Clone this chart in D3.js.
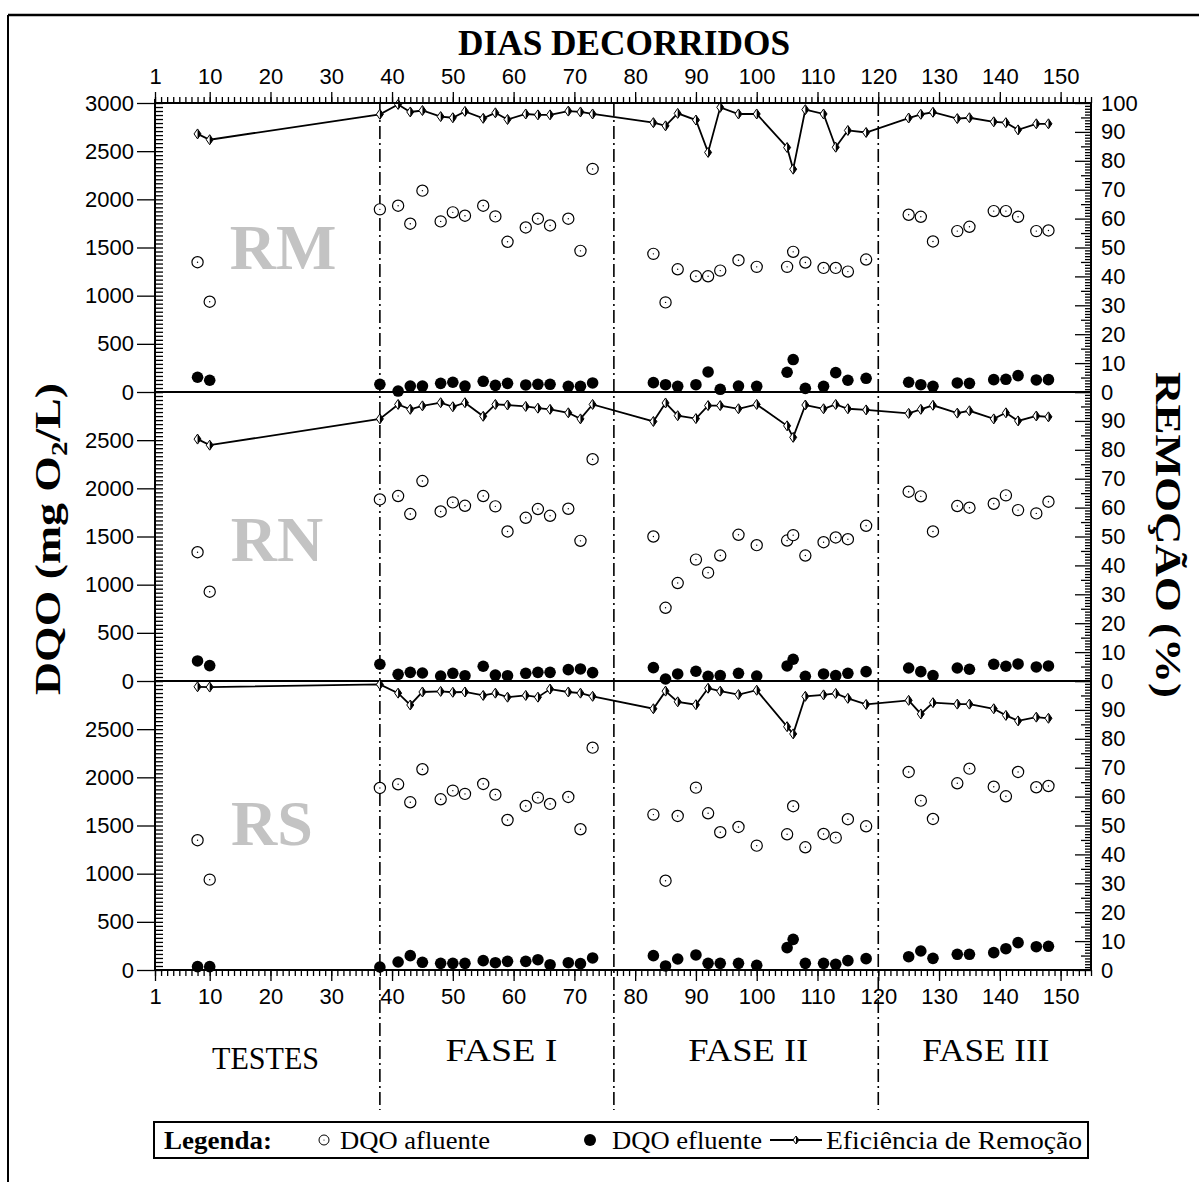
<!DOCTYPE html>
<html><head><meta charset="utf-8">
<script src="https://cdn.jsdelivr.net/npm/d3@7/dist/d3.min.js"></script>
<style>body{margin:0;background:#fff}svg{display:block}</style>
</head><body>
<svg id="c" width="1199" height="1182"></svg>
<script>
const days = [8,10,38,41,43,45,48,50,52,55,57,59,62,64,66,69,71,73,83,85,87,90,92,94,97,100,105,106,108,111,113,115,118,125,127,129,133,135,139,141,143,146,148];

const rmAfluente = [1347,937,1896,1934,1747,2090,1771,1865,1830,1934,1823,1559,1708,1799,1729,1799,1465,2316,1434,930,1274,1201,1201,1260,1368,1299,1299,1455,1344,1288,1288,1250,1375,1840,1819,1563,1670,1715,1878,1878,1819,1670,1677];
const rmEfluente = [153,122,80,10,62,62,90,101,62,111,69,90,73,80,80,59,59,94,97,76,59,76,208,28,62,59,205,337,38,59,201,122,142,101,76,59,94,90,128,132,170,125,128];
const rmRemocao = [89.3,87.3,96.1,99.5,96.9,97.4,95.3,94.9,97.1,94.7,96.6,94.3,96.2,95.9,95.9,97.2,96.9,96.2,93.2,92.1,96.4,94.1,82.9,98.5,96.2,96.2,84.6,77.1,97.7,96.2,84.7,90.5,89.8,94.8,96.1,96.8,94.6,94.9,93.5,93.2,90.7,92.8,92.8];

const rnAfluente = [1337,927,1885,1920,1733,2076,1760,1854,1819,1920,1813,1552,1694,1785,1715,1788,1455,2302,1500,760,1017,1260,1125,1302,1518,1410,1458,1514,1302,1441,1490,1472,1611,1965,1917,1552,1816,1799,1840,1927,1774,1740,1861];
const rnEfluente = [208,160,174,69,90,83,52,80,55,153,62,55,80,90,90,118,125,87,139,21,73,101,49,56,80,52,156,226,49,73,56,80,97,135,97,56,135,122,174,153,177,146,156];
const rnRemocao = [83.7,81.6,90.7,95.7,94.0,95.2,96.3,94.9,96.3,91.6,95.7,95.5,95.0,94.4,94.0,92.8,90.7,95.7,89.8,96.2,91.8,90.8,95.3,95.3,94.2,95.7,88.3,84.3,95.5,94.2,95.7,94.2,93.8,92.6,94.0,95.4,92.7,93.5,90.7,92.8,90.0,91.7,91.4];

const rsAfluente = [1347,938,1890,1928,1741,2084,1772,1862,1828,1931,1820,1557,1703,1789,1724,1796,1461,2308,1613,927,1599,1893,1627,1430,1485,1291,1409,1700,1274,1412,1374,1565,1492,2056,1758,1568,1938,2090,1903,1803,2056,1897,1910];
const rsEfluente = [35,35,31,83,149,80,69,69,69,97,76,90,90,107,55,76,66,125,149,42,114,156,69,69,69,49,232,318,69,69,59,97,118,138,197,121,163,163,180,221,284,242,246];
const rsRemocao = [98.0,97.9,98.8,95.8,91.7,96.2,96.4,96.1,96.2,95.0,95.8,94.4,95.0,94.4,97.2,96.2,95.8,94.7,90.4,96.5,92.8,91.8,97.5,96.5,95.3,96.8,84.2,81.7,94.7,95.2,95.7,94.0,91.9,93.3,88.6,92.5,92.0,92.0,90.4,88.1,86.2,87.5,87.1];

const reactorNames = ["RM","RN","RS"];
const phaseBounds = [38, 76.5, 120];
const phaseNames = ["TESTES","FASE I","FASE II","FASE III"];
const phaseCenters = [19.2, 58, 98.6, 137.7];
const dayTicks = [1,10,20,30,40,50,60,70,80,90,100,110,120,130,140,150];
const legendLabels = ["Legenda:","DQO afluente","DQO efluente","Eficiência de Remoção"];

const series = [
  {af: rmAfluente, ef: rmEfluente, re: rmRemocao},
  {af: rnAfluente, ef: rnEfluente, re: rnRemocao},
  {af: rsAfluente, ef: rsEfluente, re: rsRemocao}
];

const svg = d3.select("#c");
const sans = "'Liberation Sans', Arial, sans-serif";
const serif = "'Liberation Serif', 'Times New Roman', serif";

const L = 155, R = 1091, T0 = 103, PH = 289;
const x = d3.scaleLinear().domain([1,155]).range([L,R]);
const bottom = T0 + 3*PH;

// outer frame
svg.append("line").attr("x1",8).attr("x2",1199).attr("y1",15).attr("y2",15).attr("stroke","#000").attr("stroke-width",2.5);
svg.append("line").attr("x1",8).attr("x2",8).attr("y1",15).attr("y2",1182).attr("stroke","#000").attr("stroke-width",2);

// title
svg.append("text").attr("x",624).attr("y",55).attr("text-anchor","middle")
  .attr("font-family",serif).attr("font-weight","bold").attr("font-size",36)
  .attr("textLength",332).attr("lengthAdjust","spacingAndGlyphs").text("DIAS DECORRIDOS");

// reactor watermark labels
const wmPos = [[283,269],[277,561],[272,845]];
reactorNames.forEach((n,i)=>{
  svg.append("text").attr("x",wmPos[i][0]).attr("y",wmPos[i][1]).attr("text-anchor","middle")
    .attr("font-family",serif).attr("font-weight","bold").attr("font-size",64).attr("fill","#c3c3c3").text(n);
});

// phase lines
phaseBounds.forEach(d=>{
  svg.append("line").attr("x1",x(d)).attr("x2",x(d)).attr("y1",T0).attr("y2",1110)
    .attr("stroke","#000").attr("stroke-width",1.6).attr("stroke-dasharray","13,4,2,4");
});

function styleAxis(g){ g.select(".domain").remove(); g.selectAll("line").attr("stroke","#000").attr("stroke-width",1.3);
  g.selectAll("text").attr("font-family",sans).attr("font-size",22).attr("fill","#000"); }
const minorDays = d3.range(1,156);
const gTopMinor = svg.append("g").attr("transform",`translate(0,${T0})`)
  .call(d3.axisTop(x).tickValues(minorDays).tickSize(6).tickFormat(""));
styleAxis(gTopMinor);
const gTop = svg.append("g").attr("transform",`translate(0,${T0})`)
  .call(d3.axisTop(x).tickValues(dayTicks).tickSize(11).tickPadding(8).tickFormat(d3.format("d")));
styleAxis(gTop);
const gBotMinor = svg.append("g").attr("transform",`translate(0,${bottom})`)
  .call(d3.axisBottom(x).tickValues(minorDays).tickSize(6).tickFormat(""));
styleAxis(gBotMinor);
const gBot = svg.append("g").attr("transform",`translate(0,${bottom})`)
  .call(d3.axisBottom(x).tickValues(dayTicks).tickSize(11).tickPadding(7).tickFormat(d3.format("d")));
styleAxis(gBot);

series.forEach((s,i)=>{
  const top = T0 + i*PH, base = top + PH;
  const yL = d3.scaleLinear().domain([0,3000]).range([base, top]);
  const yR = d3.scaleLinear().domain([0,100]).range([base, top]);
  const g = svg.append("g");

  const leftVals = i===0 ? d3.range(0,3001,500) : d3.range(0,2501,500);
  const gl = g.append("g").attr("transform",`translate(${L},0)`)
    .call(d3.axisLeft(yL).tickValues(leftVals).tickSize(18).tickPadding(3).tickFormat(d3.format("d")));
  styleAxis(gl);
  const gls = g.append("g").attr("transform",`translate(${L},0)`)
    .call(d3.axisRight(yL).tickValues(d3.range(0,73).map(k=>k*3000/72)).tickSize(8).tickFormat(""));
  styleAxis(gls);

  const minorR = d3.range(0,101).filter(v=>v%5!==0);
  const mid5 = d3.range(5,100,10);
  const maj10 = d3.range(0,101,10);
  [[minorR,6],[mid5,10],[maj10,16]].forEach(([vals,sz])=>{
    const ga = g.append("g").attr("transform",`translate(${R},0)`)
      .call(d3.axisLeft(yR).tickValues(vals).tickSize(sz).tickFormat(""));
    styleAxis(ga);
  });
  const rightVals = i===0 ? d3.range(0,101,10) : d3.range(0,91,10);
  const gr = g.append("g").attr("transform",`translate(${R},0)`)
    .call(d3.axisRight(yR).tickValues(rightVals).tickSize(0).tickPadding(10).tickFormat(d3.format("d")));
  styleAxis(gr);

  g.append("line").attr("x1",L).attr("x2",R).attr("y1",base).attr("y2",base).attr("stroke","#000").attr("stroke-width",2.2);

  const pts = days.map((d,k)=>[x(d), yR(s.re[k])]);
  g.append("path").attr("d", d3.line()(pts)).attr("fill","none").attr("stroke","#000").attr("stroke-width",1.8);
  pts.forEach(p=>{
    g.append("path").attr("d",`M${p[0]},${p[1]-5}L${p[0]+3.5},${p[1]}L${p[0]},${p[1]+5}L${p[0]-3.5},${p[1]}Z`)
      .attr("fill","#fff").attr("stroke","#000").attr("stroke-width",1);
    g.append("path").attr("d",`M${p[0]},${p[1]-5}L${p[0]+3.5},${p[1]}L${p[0]},${p[1]+5}Z`).attr("fill","#000");
  });

  days.forEach((d,k)=>{
    g.append("circle").attr("cx",x(d)).attr("cy",yL(s.af[k])).attr("r",5.6)
      .attr("fill","#fff").attr("stroke","#000").attr("stroke-width",1.2);
    g.append("circle").attr("cx",x(d)).attr("cy",yL(s.af[k])).attr("r",0.7).attr("fill","#000");
  });
  days.forEach((d,k)=>{
    g.append("circle").attr("cx",x(d)).attr("cy",yL(s.ef[k])).attr("r",5.8).attr("fill","#000");
  });
});

svg.append("line").attr("x1",L).attr("x2",L).attr("y1",T0-4).attr("y2",bottom).attr("stroke","#000").attr("stroke-width",2);
svg.append("line").attr("x1",R).attr("x2",R).attr("y1",T0).attr("y2",bottom).attr("stroke","#000").attr("stroke-width",2);
svg.append("line").attr("x1",L).attr("x2",R).attr("y1",T0).attr("y2",T0).attr("stroke","#000").attr("stroke-width",2);

// axis titles
const yt = svg.append("text").attr("transform","translate(60,539) rotate(-90)").attr("text-anchor","middle")
  .attr("font-family",serif).attr("font-weight","bold").attr("font-size",36)
  .attr("textLength",312).attr("lengthAdjust","spacingAndGlyphs");
yt.append("tspan").text("DQO  (mg O");
yt.append("tspan").attr("font-size",23).attr("dy",7).text("2");
yt.append("tspan").attr("dy",-7).text("/L)");
svg.append("text").attr("transform","translate(1156,535) rotate(90)").attr("text-anchor","middle")
  .attr("font-family",serif).attr("font-weight","bold").attr("font-size",35)
  .attr("textLength",326).attr("lengthAdjust","spacingAndGlyphs").text("REMOÇÃO (%)");

// phase names
const phaseLens = [107,112,120,127];
phaseNames.forEach((n,i)=>{
  svg.append("text").attr("x",x(phaseCenters[i])).attr("y", i===0?1069:1061).attr("text-anchor","middle")
    .attr("font-family",serif).attr("font-size",31)
    .attr("textLength",phaseLens[i]).attr("lengthAdjust","spacingAndGlyphs").text(n);
});

// legend
const lg = svg.append("g");
lg.append("rect").attr("x",154).attr("y",1122).attr("width",934).attr("height",36).attr("fill","#fff").attr("stroke","#000").attr("stroke-width",2);
const ly = 1149;
lg.append("text").attr("x",164).attr("y",ly).attr("font-family",serif).attr("font-weight","bold").attr("font-size",26)
  .attr("textLength",108).attr("lengthAdjust","spacingAndGlyphs").text(legendLabels[0]);
lg.append("circle").attr("cx",324).attr("cy",1140).attr("r",5).attr("fill","#fff").attr("stroke","#000").attr("stroke-width",1);
lg.append("circle").attr("cx",324).attr("cy",1140).attr("r",0.6).attr("fill","#000");
lg.append("text").attr("x",340).attr("y",ly).attr("font-family",serif).attr("font-size",26)
  .attr("textLength",150).attr("lengthAdjust","spacingAndGlyphs").text(legendLabels[1]);
lg.append("circle").attr("cx",590).attr("cy",1140).attr("r",6).attr("fill","#000");
lg.append("text").attr("x",612).attr("y",ly).attr("font-family",serif).attr("font-size",26)
  .attr("textLength",150).attr("lengthAdjust","spacingAndGlyphs").text(legendLabels[2]);
lg.append("line").attr("x1",770).attr("x2",822).attr("y1",1140).attr("y2",1140).attr("stroke","#000").attr("stroke-width",1.8);
lg.append("path").attr("d","M796,1136L799,1140L796,1144L793,1140Z").attr("fill","#fff").attr("stroke","#000").attr("stroke-width",1);
lg.append("path").attr("d","M796,1136L799,1140L796,1144Z").attr("fill","#000");
lg.append("text").attr("x",826).attr("y",ly).attr("font-family",serif).attr("font-size",26)
  .attr("textLength",256).attr("lengthAdjust","spacingAndGlyphs").text(legendLabels[3]);
</script>
</body></html>
